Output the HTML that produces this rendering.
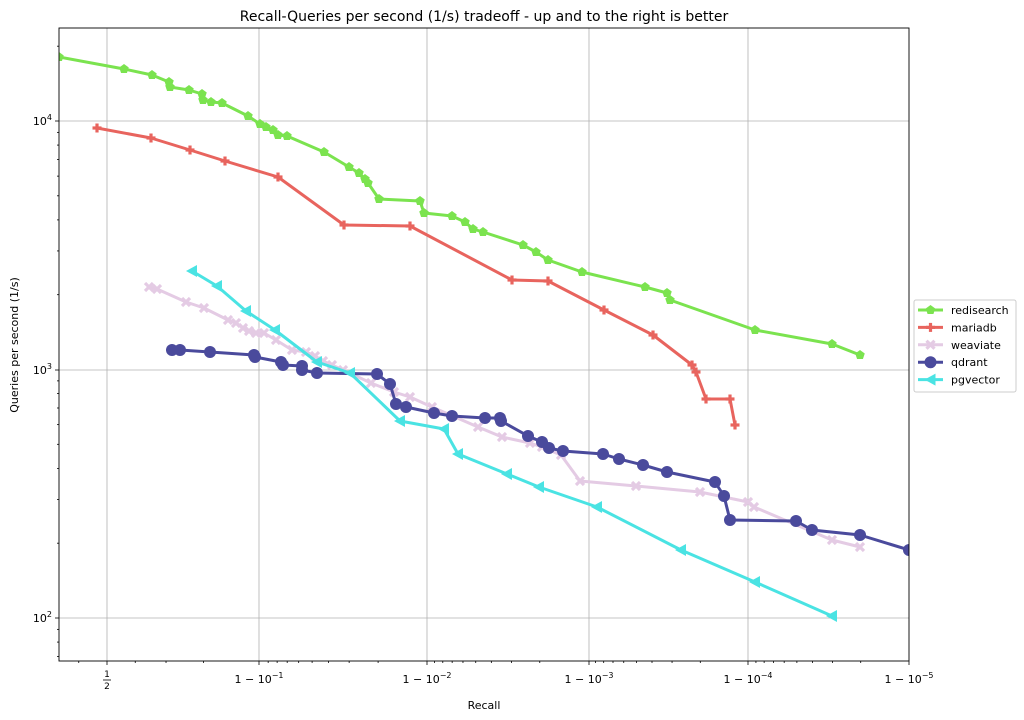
<!DOCTYPE html>
<html><head><meta charset="utf-8"><style>
html,body{margin:0;padding:0;background:#fff;}
svg{display:block;font-family:"DejaVu Sans","Liberation Sans",sans-serif;}
</style></head><body>
<svg id="s" width="1024" height="720" viewBox="0 0 1024 720" xmlns="http://www.w3.org/2000/svg">
<rect width="1024" height="720" fill="#fff"/>
<g stroke="#b0b0b0" stroke-width="0.8">
<line x1="107" y1="28" x2="107" y2="661"/><line x1="259" y1="28" x2="259" y2="661"/>
<line x1="427" y1="28" x2="427" y2="661"/><line x1="589" y1="28" x2="589" y2="661"/>
<line x1="748" y1="28" x2="748" y2="661"/>
<line x1="59" y1="121" x2="909" y2="121"/><line x1="59" y1="370" x2="909" y2="370"/><line x1="59" y1="618" x2="909" y2="618"/>
</g>
<g id="ticks" stroke="#000" stroke-width="0.8"></g>
<g id="series"></g>
<rect x="59" y="28" width="850" height="633" fill="none" stroke="#000" stroke-width="0.9"/>
<text x="484" y="21" font-size="14" text-anchor="middle">Recall-Queries per second (1/s) tradeoff - up and to the right is better</text>
<text x="484" y="709" font-size="11" text-anchor="middle">Recall</text>
<text transform="translate(18,345) rotate(-90)" font-size="11" text-anchor="middle">Queries per second (1/s)</text>
<g font-size="11" text-anchor="end">
<text x="52" y="125">10<tspan font-size="8" dy="-5">4</tspan></text>
<text x="52" y="374">10<tspan font-size="8" dy="-5">3</tspan></text>
<text x="52" y="622">10<tspan font-size="8" dy="-5">2</tspan></text>
</g>
<g font-size="11" text-anchor="middle">
<text x="107" y="677" font-size="9">1</text><line x1="103" y1="680" x2="111" y2="680" stroke="#000" stroke-width="0.8"/><text x="107" y="689" font-size="9">2</text>
<text x="259" y="683">1 − 10<tspan font-size="8" dy="-5">−1</tspan></text>
<text x="427" y="683">1 − 10<tspan font-size="8" dy="-5">−2</tspan></text>
<text x="589" y="683">1 − 10<tspan font-size="8" dy="-5">−3</tspan></text>
<text x="748" y="683">1 − 10<tspan font-size="8" dy="-5">−4</tspan></text>
<text x="909" y="683">1 − 10<tspan font-size="8" dy="-5">−5</tspan></text>
</g>
<rect x="914" y="300" width="102" height="92" rx="2" fill="#fff" stroke="#ccc"/>
<g font-size="11" id="leg"></g>
</svg>
<script>
var NS="http://www.w3.org/2000/svg";
function el(t,a,p){var e=document.createElementNS(NS,t);for(var k in a)e.setAttribute(k,a[k]);p.appendChild(e);return e;}
var tk=document.getElementById('ticks');
[121,370,618].forEach(function(y){el('line',{x1:55,y1:y,x2:59,y2:y},tk);});
for(var d=1;d<=4;d++)for(var k=2;k<=9;k++){var y=618+248.5-248.5*(d-1)-248.5*Math.log10(k);y=618-248.5*(d-2)-248.5*Math.log10(k);if(y>28&&y<661)el('line',{x1:57,y1:y,x2:59,y2:y},tk);}
[107,259,427,589,748,909].forEach(function(x){el('line',{x1:x,y1:661,x2:x,y2:665},tk);});
// minor logit ticks
function lx(p){return 107+160.4*Math.log10(p/(1-p));}
var mins=[0.3,0.4,0.6,0.7,0.8];
for(var d=1;d<=4;d++){var base=Math.pow(10,-d);for(var k=2;k<=9;k++){mins.push(1-k*base/10*1);}}
mins.forEach(function(p){var x=lx(p);if(x>59&&x<909)el('line',{x1:x,y1:661,x2:x,y2:663},tk);});
var S=[
{n:'redisearch',c:'#7be34f',m:'p',pts:[[59,57],[124,69],[152,75],[169,82],[170,87],[189,90],[202,94],[203,100],[211,102],[222,103],[248,116],[260,124],[266,127],[273,130],[278,135],[287,136],[324,152],[349,167],[359,173],[365,179],[368,183],[379,199],[420,201],[424,213],[452,216],[465,222],[473,229],[483,232],[523,245],[536,252],[548,260],[582,272],[645,287],[667,293],[670,300],[755,330],[832,344],[860,355]]},
{n:'mariadb',c:'#e8645e',m:'P',pts:[[97,128],[151,138],[190,150],[225,161],[278,177],[344,225],[410,226],[512,280],[548,281],[604,310],[653,335],[692,365],[696,372],[706,399],[730,399],[735,425]]},
{n:'weaviate',c:'#e4cbe4',m:'X',pts:[[149,287],[157,289],[186,302],[204,308],[228,320],[236,323],[243,328],[249,331],[256,333],[264,333],[276,340],[292,350],[306,352],[315,356],[323,361],[332,365],[343,370],[371,383],[394,392],[410,397],[432,407],[478,427],[502,437],[530,443],[542,447],[561,455],[580,481],[636,486],[700,492],[748,502],[754,507],[832,540],[860,547]]},
{n:'qdrant',c:'#4a4a9c',m:'o',pts:[[172,350],[180,350],[210,352],[254,355],[255,357],[281,362],[283,365],[302,366],[302,370],[317,373],[377,374],[390,384],[396,404],[406,407],[434,413],[452,416],[485,418],[500,418],[501,421],[528,436],[542,442],[549,448],[563,451],[603,454],[619,459],[643,465],[667,472],[715,482],[724,496],[730,520],[796,521],[812,530],[860,535],[909,550]]},
{n:'pgvector',c:'#4ae3e3',m:'<',pts:[[192,271],[217,286],[246,311],[275,330],[317,362],[350,373],[400,421],[444,429],[458,454],[507,474],[539,487],[597,507],[681,550],[755,582],[832,616]]}
];
var g=document.getElementById('series');
function mark(m,x,y,c,p){
 if(m=='o')el('circle',{cx:x,cy:y,r:6,fill:c},p);
 else if(m=='p'){var pts=[];for(var i=0;i<5;i++){var a=-Math.PI/2+i*2*Math.PI/5;pts.push((x+5*Math.cos(a))+','+(y+5*Math.sin(a)));}el('polygon',{points:pts.join(' '),fill:c},p);}
 else if(m=='P'){el('rect',{x:x-4.5,y:y-1.6,width:9,height:3.2,fill:c},p);el('rect',{x:x-1.6,y:y-4.5,width:3.2,height:9,fill:c},p);}
 else if(m=='X'){el('path',{d:'M'+(x-4)+' '+(y-4)+'L'+(x+4)+' '+(y+4)+'M'+(x+4)+' '+(y-4)+'L'+(x-4)+' '+(y+4),stroke:c,'stroke-width':3.2},p);}
 else if(m=='<'){el('polygon',{points:(x-6)+','+y+' '+(x+5)+','+(y-6)+' '+(x+5)+','+(y+6),fill:c},p);}
}
var clip=el('clipPath',{id:'cp'},document.getElementById('s'));el('rect',{x:59,y:28,width:850,height:633},clip);
g.setAttribute('clip-path','url(#cp)');
S.forEach(function(s){
 el('polyline',{points:s.pts.map(function(p){return p.join(',')}).join(' '),fill:'none',stroke:s.c,'stroke-width':3,'stroke-linejoin':'round'},g);
 s.pts.forEach(function(p){mark(s.m,p[0],p[1],s.c,g);});
});
var lg=document.getElementById('leg');
S.forEach(function(s,i){var y=310+i*17.4;
 el('line',{x1:918,y1:y,x2:943,y2:y,stroke:s.c,'stroke-width':3},lg);mark(s.m,930.5,y,s.c,lg);
 var t=el('text',{x:951,y:y+4},lg);t.textContent=s.n;});
</script>
</body></html>
